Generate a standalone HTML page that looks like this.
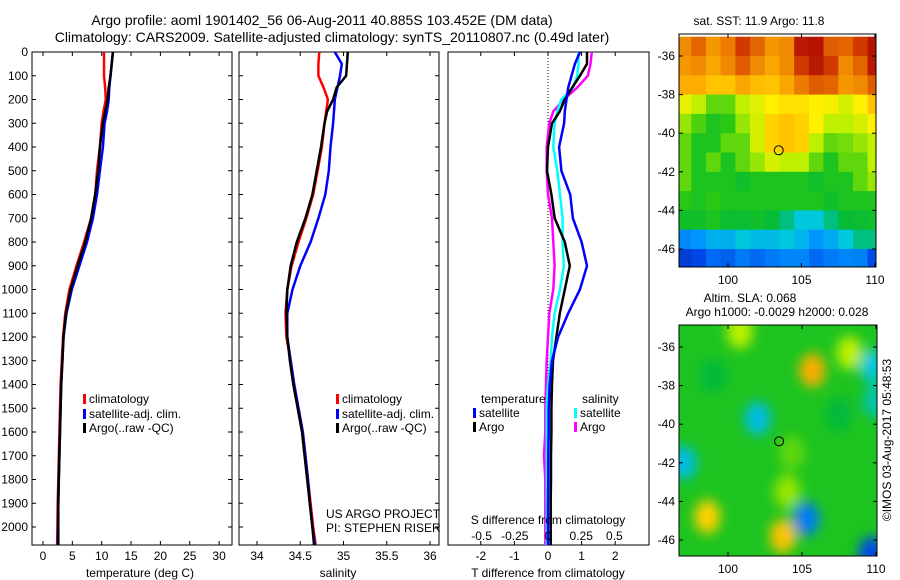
<!DOCTYPE html>
<html><head><meta charset="utf-8">
<style>
body{margin:0;background:#fff;}
svg{display:block;font-family:"Liberation Sans",sans-serif;}
text{fill:#000;}
</style></head>
<body>
<svg id="fig" width="900" height="580" viewBox="0 0 900 580">
<defs>
<clipPath id="cp1"><rect x="32" y="52" width="200" height="493"/></clipPath>
<clipPath id="cp2"><rect x="239" y="52" width="200" height="493"/></clipPath>
<clipPath id="cp3"><rect x="448" y="52" width="201" height="493"/></clipPath>
<clipPath id="cpm1"><rect x="679" y="34" width="197" height="233"/></clipPath>
<clipPath id="cpm2"><rect x="679" y="325" width="198" height="231"/></clipPath>
<filter id="blur" x="-50%" y="-50%" width="200%" height="200%"><feGaussianBlur stdDeviation="6"/></filter>
</defs>
<text x="322" y="25" font-size="14" text-anchor="middle">Argo profile: aoml 1901402_56 06-Aug-2011 40.885S 103.452E (DM data)</text>
<text x="332" y="42" font-size="14" text-anchor="middle">Climatology: CARS2009. Satellite-adjusted climatology: synTS_20110807.nc (0.49d later)</text>
<g id="g1"></g>
<g id="g2"></g>
<g id="g3"></g>
<g id="m1"></g>
<g id="m2"></g>
<text x="759" y="25" font-size="12" text-anchor="middle">sat. SST: 11.9 Argo: 11.8</text>
<text x="750" y="302" font-size="12" text-anchor="middle">Altim. SLA: 0.068</text>
<text x="777" y="316" font-size="12" text-anchor="middle">Argo h1000: -0.0029 h2000: 0.028</text>
<text transform="translate(891,440) rotate(-90)" font-size="12" text-anchor="middle">©IMOS 03-Aug-2017 05:48:53</text>
</svg>
<script>
const depths=[0,50,100,150,200,250,300,400,500,600,700,800,900,1000,1100,1200,1300,1400,1500,1600,1700,1800,1900,2000,2080];
const tempClim=[10.4,10.4,10.4,10.6,10.7,10.3,10.0,9.7,9.2,8.9,8.2,7.0,5.7,4.5,3.8,3.4,3.2,3.0,2.9,2.8,2.7,2.6,2.5,2.45,2.4];
const tempSat=[11.9,11.7,11.5,11.3,11.2,10.9,10.5,10.2,9.7,9.2,8.5,7.5,6.2,4.9,4.0,3.5,3.3,3.1,3.0,2.9,2.8,2.7,2.6,2.55,2.5];
const tempArgo=[11.9,11.7,11.5,11.2,11.0,10.6,10.2,9.7,9.4,8.9,8.2,7.2,5.9,4.7,3.9,3.5,3.3,3.1,3.0,2.9,2.8,2.7,2.6,2.6,2.6];
const salClim=[34.72,34.71,34.71,34.77,34.82,34.8,34.78,34.75,34.7,34.65,34.57,34.48,34.4,34.35,34.33,34.34,34.39,34.43,34.48,34.53,34.56,34.59,34.62,34.65,34.68];
const salSat=[34.9,34.98,34.96,34.93,34.9,34.89,34.88,34.85,34.83,34.79,34.71,34.62,34.5,34.41,34.35,34.35,34.39,34.43,34.48,34.53,34.56,34.59,34.61,34.64,34.67];
const salArgo=[35.05,35.04,35.03,34.92,34.88,34.81,34.78,34.74,34.69,34.64,34.56,34.46,34.39,34.35,34.34,34.35,34.38,34.42,34.47,34.52,34.55,34.58,34.61,34.64,34.66];
const dTsat=[0.95,0.8,0.7,0.6,0.55,0.5,0.48,0.33,0.4,0.66,0.74,1.0,1.16,0.95,0.6,0.3,0.12,0.05,0.02,0.02,0.01,0.01,0.0,0.0,0.0];
const dTargo=[1.16,1.16,0.95,0.72,0.5,0.35,0.12,0.0,-0.03,0.1,0.2,0.5,0.65,0.5,0.35,0.25,0.15,0.12,0.1,0.1,0.09,0.09,0.08,0.08,0.08];
const dSsat=[0.23,0.23,0.22,0.19,0.1,0.07,0.05,0.04,0.07,0.09,0.11,0.11,0.12,0.09,0.05,0.03,0.02,0.0,-0.01,-0.01,-0.01,-0.01,-0.01,-0.01,-0.01];
const dSargo=[0.33,0.32,0.3,0.22,0.12,0.04,0.01,-0.01,-0.01,0.0,0.03,0.04,0.05,0.04,0.01,0.0,-0.01,-0.015,-0.02,-0.02,-0.03,-0.02,-0.02,-0.02,-0.02];
const depthTicks=[0,100,200,300,400,500,600,700,800,900,1000,1100,1200,1300,1400,1500,1600,1700,1800,1900,2000];
const tempTicks=[0,5,10,15,20,25,30];
const salTicks=[34,34.5,35,35.5,36];
const dTTicks=[-2,-1,0,1,2];
const dSTicks=[-0.5,-0.25,0,0.25,0.5];
const sstLons=[97,98,99,100,101,102,103,104,105,106,107,108,109,110];
const sstGrid=[
[0.8,0.85,0.78,0.82,0.9,0.85,0.78,0.8,0.95,0.96,0.86,0.85,0.9,0.96],
[0.78,0.8,0.76,0.8,0.86,0.8,0.76,0.8,0.9,0.95,0.9,0.8,0.85,0.95],
[0.75,0.75,0.72,0.72,0.76,0.73,0.72,0.76,0.82,0.86,0.85,0.78,0.8,0.86],
[0.64,0.6,0.55,0.55,0.6,0.63,0.66,0.68,0.68,0.66,0.65,0.62,0.66,0.72],
[0.58,0.54,0.5,0.52,0.58,0.62,0.7,0.72,0.7,0.66,0.6,0.6,0.62,0.66],
[0.55,0.5,0.5,0.55,0.55,0.62,0.7,0.72,0.7,0.6,0.55,0.56,0.58,0.6],
[0.55,0.5,0.55,0.5,0.55,0.58,0.62,0.6,0.6,0.55,0.5,0.55,0.55,0.6],
[0.55,0.5,0.5,0.5,0.48,0.5,0.5,0.5,0.5,0.48,0.5,0.5,0.55,0.58],
[0.52,0.5,0.52,0.5,0.5,0.5,0.5,0.5,0.5,0.5,0.48,0.5,0.5,0.5],
[0.48,0.48,0.5,0.47,0.47,0.48,0.46,0.42,0.38,0.38,0.42,0.46,0.47,0.48],
[0.28,0.3,0.34,0.34,0.38,0.36,0.36,0.38,0.35,0.3,0.33,0.38,0.42,0.42],
[0.12,0.15,0.22,0.2,0.25,0.22,0.25,0.27,0.27,0.22,0.25,0.27,0.26,0.16]];
const slaLon=[105.7,98.6,103.7,100.8,108.2,104,102,97,109.8,105.3,109.7,110,99,107.5,104.3];
const slaLat=[-37.2,-44.8,-45.8,-35.2,-36.3,-43.5,-39.7,-42,-37,-44.9,-46.7,-38.8,-37.5,-39.5,-41.5];
const slaVal=[0.75,0.7,0.72,0.6,0.6,0.58,0.36,0.36,0.38,0.25,0.15,0.4,0.45,0.45,0.55];

const NS='http://www.w3.org/2000/svg';
function mk(tag,attrs,parent){const e=document.createElementNS(NS,tag);for(const k in attrs)e.setAttribute(k,attrs[k]);parent.appendChild(e);return e;}
const yD=d=>52+d*0.2375;
const xT=t=>43+t*5.87;
const xS=s=>257+(s-34)*86.5;
const xDT=d=>548+d*33.6;
const xDS=d=>548+d*132.8;
function frame(g,x0,x1,name){
  const r=mk('rect',{x:x0,y:52,width:x1-x0,height:493,fill:'none',stroke:'#000','stroke-width':1},g);
  
  
  depthTicks.forEach(d=>{mk('line',{x1:x0,x2:x0+4,y1:yD(d),y2:yD(d),stroke:'#000'},g);mk('line',{x1:x1-4,x2:x1,y1:yD(d),y2:yD(d),stroke:'#000'},g);});
}
function line(g,xs,xf,color,clip,name){
  const pts=depths.map((d,i)=>xf(xs[i]).toFixed(1)+','+yD(d).toFixed(1)).join(' ');
  const p=mk('polyline',{points:pts,fill:'none',stroke:color,'stroke-width':2.5,'clip-path':'url(#'+clip+')'},g);
  
  
}
function txt(g,x,y,s,anchor,size,name){const t=mk('text',{x:x,y:y,'font-size':size||12,'text-anchor':anchor||'start'},g);t.textContent=s;
  
  return t;}
function legend(g,x,y,color,label){
  const r=mk('rect',{x:x,y:y-9,width:3,height:10,fill:color},g);
  
  
  txt(g,x+6,y,label,'start',12,'legend-entry');
}
const g1=document.getElementById('g1');
frame(g1,32,232,'temperature-axes');
depthTicks.forEach(d=>txt(g1,28,yD(d)+4,String(d),'end',12,'depth-tick-label'));
tempTicks.forEach(t=>{mk('line',{x1:xT(t),x2:xT(t),y1:545,y2:541,stroke:'#000'},g1);mk('line',{x1:xT(t),x2:xT(t),y1:52,y2:56,stroke:'#000'},g1);txt(g1,xT(t),560,String(t),'middle',12,'temp-tick-label');});
txt(g1,140,577,'temperature (deg C)','middle',12,'x-axis-title-temperature');
line(g1,tempClim,xT,'#f00','cp1','temp-climatology-line');
line(g1,tempSat,xT,'#00f','cp1','temp-satellite-line');
line(g1,tempArgo,xT,'#000','cp1','temp-argo-line');
legend(g1,83,403,'#f00','climatology');
legend(g1,83,418,'#00f','satellite-adj. clim.');
legend(g1,83,432,'#000','Argo(..raw -QC)');
const g2=document.getElementById('g2');
frame(g2,239,439,'salinity-axes');
salTicks.forEach(t=>{mk('line',{x1:xS(t),x2:xS(t),y1:545,y2:541,stroke:'#000'},g2);mk('line',{x1:xS(t),x2:xS(t),y1:52,y2:56,stroke:'#000'},g2);txt(g2,xS(t),560,String(t),'middle',12,'salinity-tick-label');});
txt(g2,338,577,'salinity','middle',12,'x-axis-title-salinity');
line(g2,salClim,xS,'#f00','cp2','sal-climatology-line');
line(g2,salSat,xS,'#00f','cp2','sal-satellite-line');
line(g2,salArgo,xS,'#000','cp2','sal-argo-line');
legend(g2,336,403,'#f00','climatology');
legend(g2,336,418,'#00f','satellite-adj. clim.');
legend(g2,336,432,'#000','Argo(..raw -QC)');
txt(g2,326,518,'US ARGO PROJECT','start',12,'project-label');
txt(g2,326,532,'PI: STEPHEN RISER','start',12,'pi-label');
const g3=document.getElementById('g3');
const fr3=mk('rect',{x:448,y:52,width:201,height:493,fill:'none',stroke:'#000'},g3);


dTTicks.forEach(t=>{mk('line',{x1:xDT(t),x2:xDT(t),y1:545,y2:541,stroke:'#000'},g3);mk('line',{x1:xDT(t),x2:xDT(t),y1:52,y2:56,stroke:'#000'},g3);txt(g3,xDT(t),560,String(t),'middle',12,'tdiff-tick-label');});
mk('line',{x1:548,x2:548,y1:52,y2:545,stroke:'#000','stroke-dasharray':'1,2'},g3);
line(g3,dSargo,xDS,'#f0f','cp3','sdiff-argo-line');
line(g3,dSsat,xDS,'#0ff','cp3','sdiff-satellite-line');
line(g3,dTargo,xDT,'#000','cp3','tdiff-argo-line');
line(g3,dTsat,xDT,'#00f','cp3','tdiff-satellite-line');
dSTicks.forEach(t=>txt(g3,xDS(t),540,String(t),'middle',12,'sdiff-tick-label'));
txt(g3,548,524,'S difference from climatology','middle',12,'s-diff-axis-title');
txt(g3,548,577,'T difference from climatology','middle',12,'t-diff-axis-title');
txt(g3,481,403,'temperature','start',12,'legend-temperature-header');
legend(g3,473,417,'#00f','satellite');
legend(g3,473,431,'#000','Argo');
txt(g3,582,403,'salinity','start',12,'legend-salinity-header');
legend(g3,574,417,'#0ff','satellite');
legend(g3,574,431,'#f0f','Argo');
const stops=[[0,[0,30,140]],[0.15,[0,70,230]],[0.3,[0,150,255]],[0.38,[0,200,220]],[0.45,[0,185,60]],[0.52,[40,200,20]],[0.6,[190,240,0]],[0.66,[255,240,0]],[0.74,[255,180,0]],[0.84,[230,110,0]],[0.92,[200,40,0]],[1,[160,0,0]]];
function cmap(v){v=Math.max(0,Math.min(1,v));for(let i=1;i<stops.length;i++){if(v<=stops[i][0]){const a=stops[i-1],b=stops[i],f=(v-a[0])/(b[0]-a[0]);const c=a[1].map((x,k)=>Math.round(x+(b[1][k]-x)*f));return 'rgb('+c.join(',')+')';}}return 'rgb(160,0,0)';}
function mapAxes(g,x0,y0,w,h,lonX,latY,name){
  const r=mk('rect',{x:x0,y:y0,width:w,height:h,fill:'none',stroke:'#000'},g);
  
  
  [100,105,110].forEach(l=>{mk('line',{x1:lonX(l),x2:lonX(l),y1:y0+h,y2:y0+h-4,stroke:'#000'},g);mk('line',{x1:lonX(l),x2:lonX(l),y1:y0,y2:y0+4,stroke:'#000'},g);txt(g,lonX(l),y0+h+17,String(l),'middle',12,'lon-tick-label');});
  [-36,-38,-40,-42,-44,-46].forEach(l=>{mk('line',{x1:x0,x2:x0+4,y1:latY(l),y2:latY(l),stroke:'#000'},g);mk('line',{x1:x0+w-4,x2:x0+w,y1:latY(l),y2:latY(l),stroke:'#000'},g);txt(g,x0-4,latY(l)+4,String(l),'end',12,'lat-tick-label');});
}
const m1=document.getElementById('m1');
const lon1=l=>728+(l-100)*14.7, lat1=l=>56+(-36-l)*19.3;
const cg=mk('g',{'clip-path':'url(#cpm1)'},m1);
sstGrid.forEach((row,r)=>row.forEach((v,c)=>{
  const x=lon1(sstLons[c]-0.5), y=lat1(-35-r);
  const cell=mk('rect',{x:x.toFixed(1),y:y.toFixed(1),width:15.2,height:19.8,fill:cmap(v)},cg);
  
  
}));
const c1=mk('circle',{cx:lon1(103.45),cy:lat1(-40.885),r:4.5,fill:'none',stroke:'#000'},m1);


mapAxes(m1,679,34,197,233,lon1,lat1,'sst-map-axes');
const m2=document.getElementById('m2');
const lon2=l=>728+(l-100)*14.8, lat2=l=>347+(-36-l)*19.3;
const cg2=mk('g',{'clip-path':'url(#cpm2)'},m2);
mk('rect',{x:679,y:325,width:198,height:231,fill:cmap(0.5)},cg2);
const bg=mk('g',{filter:'url(#blur)'},cg2);
slaLon.forEach((l,i)=>{
  const e=mk('ellipse',{cx:lon2(l),cy:lat2(slaLat[i]),rx:13,ry:17,fill:cmap(slaVal[i])},bg);
  
  
});
const c2=mk('circle',{cx:lon2(103.45),cy:lat2(-40.885),r:4.5,fill:'none',stroke:'#000'},m2);


mapAxes(m2,679,325,198,231,lon2,lat2,'sla-map-axes');
</script>
</body></html>
